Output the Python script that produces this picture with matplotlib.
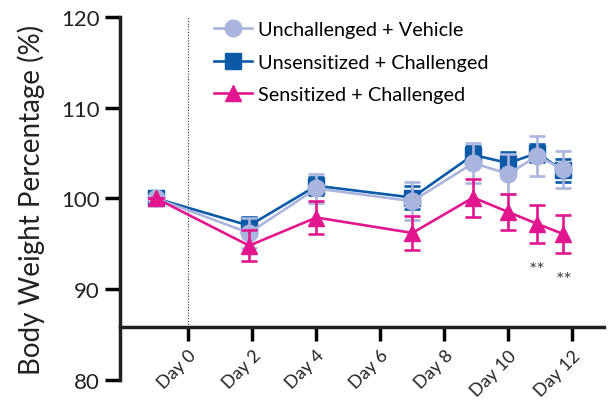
import matplotlib
matplotlib.use("Agg")
import matplotlib.pyplot as plt
from matplotlib.lines import Line2D

plt.rcParams['font.family'] = ['Lato', 'DejaVu Sans']

# days at which body weight was recorded (as drawn)
days = [-1, 1.9, 4, 7, 8.9, 10, 10.9, 11.7]
tick_days = [0, 2, 4, 6, 8, 10, 12]
tick_labels = ["Day 0", "Day 2", "Day 4", "Day 6", "Day 8", "Day 10", "Day 12"]

vehicle = [100, 96.2, 101.1, 99.7, 103.9, 102.7, 104.7, 103.2]
vehicle_err = [0, 1.7, 1.6, 2.1, 2.2, 2.2, 2.2, 2.0]
unsens = [100, 97.0, 101.4, 100.1, 104.8, 103.9, 105.0, 103.1]
unsens_err = [0, 1.0, 1.0, 1.3, 1.0, 1.2, 1.0, 1.3]
sens = [100, 94.8, 97.9, 96.2, 100.1, 98.5, 97.2, 96.1]
sens_err = [0, 1.7, 1.8, 1.9, 2.1, 2.0, 2.1, 2.1]

c_light = "#aab5de"
c_dark = "#0a5aa8"
c_mag = "#e2168f"

fig = plt.figure(figsize=(6.13, 4.10), dpi=100)
ax = fig.add_axes([0.196, 0.071, 0.79, 0.885])

for s in ["top", "right"]:
    ax.spines[s].set_visible(False)
# moving the spine resets the ticks, so do it before styling them
ax.spines["bottom"].set_position(("data", 85.8))
for s in ["left", "bottom"]:
    ax.spines[s].set_linewidth(2.5)
    ax.spines[s].set_color("#231f20")

ax.axvline(0, ymin=(85.8 - 80) / 40, ymax=1, color="#333333", lw=0.8, ls=(0, (1, 1.5)))

common = dict(lw=1.9, capsize=6, capthick=1.9, elinewidth=1.9)
ax.errorbar(days, unsens, yerr=unsens_err, color=c_dark, marker="s", ms=11, zorder=3, **common)
ax.errorbar(days, vehicle, yerr=vehicle_err, color=c_light, marker="o", ms=12, zorder=4, **common)
ax.errorbar(days, sens, yerr=sens_err, color=c_mag, marker="^", ms=12, zorder=5, **common)

ax.text(10.9, 92.2, "**", ha="center", va="center", fontsize=14, color="#444444")
ax.text(11.75, 91.1, "**", ha="center", va="center", fontsize=14, color="#444444")

ax.set_xlim(-2.13, 13)
ax.set_ylim(80, 120)
ax.set_yticks([80, 90, 100, 110, 120])
ax.set_xticks(tick_days)
ax.set_xticklabels(tick_labels, rotation=45, ha="right", rotation_mode="anchor",
                   fontsize=13, color="#222222")
ax.tick_params(axis="y", labelsize=16, length=11, width=2.5, labelcolor="#222222")
ax.tick_params(axis="x", length=10, width=2.5, pad=4)

ax.set_ylabel("Body Weight Percentage (%)", fontsize=20, color="#222222", labelpad=12)

handles = [
    Line2D([], [], color=c_light, marker="o", ms=12, lw=1.9),
    Line2D([], [], color=c_dark, marker="s", ms=11, lw=1.9),
    Line2D([], [], color=c_mag, marker="^", ms=12, lw=1.9),
]
labels = ["Unchallenged + Vehicle", "Unsensitized + Challenged", "Sensitized + Challenged"]
ax.legend(handles, labels, loc="upper left",
          bbox_to_anchor=(0.178, 1.01), frameon=False, fontsize=14.3,
          handlelength=1.9, handletextpad=0.3, labelspacing=0.78, borderaxespad=0)

fig.savefig("out.png", dpi=100)
